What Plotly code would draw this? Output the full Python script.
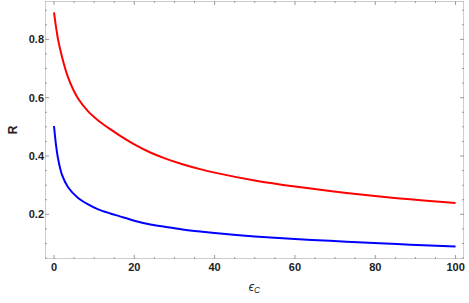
import plotly.graph_objects as go

eps_c = [0, 0.5, 1, 2, 3.5, 6, 8.5, 11, 14, 16.4, 20, 24, 27.6, 32, 36.4, 40, 50, 60, 68.7, 77, 85.4, 92, 100]
r_red = [0.893, 0.843, 0.800, 0.740, 0.670, 0.597, 0.553, 0.522, 0.492, 0.470, 0.440, 0.412, 0.392, 0.372,
         0.355, 0.343, 0.316, 0.295, 0.280, 0.267, 0.2555, 0.2475, 0.239]
r_blue = [0.503, 0.438, 0.392, 0.335, 0.293, 0.256, 0.234, 0.217, 0.203, 0.193, 0.178, 0.165, 0.157, 0.148,
          0.141, 0.136, 0.124, 0.115, 0.109, 0.103, 0.098, 0.094, 0.090]

x_ticks = [0, 20, 40, 60, 80, 100]
y_ticks = [0.2, 0.4, 0.6, 0.8]

W, H = 469, 303
ML, MR, MT, MB = 45, 5, 1, 44
XR = [-2.24, 102.1]
YR = [0.0467, 0.9317]

# frame + tick decoration derived from the axis ranges and tick lists
xpu = (W - ML - MR) / (XR[1] - XR[0])
ypu = (H - MT - MB) / (YR[1] - YR[0])
fx, fy = [], []
def seg(x0, y0, x1, y1):
    fx.extend([x0, x1, None]); fy.extend([y0, y1, None])
seg(XR[0], YR[0], XR[1], YR[0]); seg(XR[1], YR[0], XR[1], YR[1])
seg(XR[1], YR[1], XR[0], YR[1]); seg(XR[0], YR[1], XR[0], YR[0])
x_minor = [v * 5 for v in range(0, 21) if v * 5 not in x_ticks]
y_minor = [round(0.05 * k, 2) for k in range(1, 19) if round(0.05 * k, 2) not in y_ticks]
for xs, L in ((x_ticks, 4), (x_minor, 2)):
    for v in xs:
        seg(v, YR[0], v, YR[0] + L / ypu)
        seg(v, YR[1], v, YR[1] - L / ypu)
for ys, L in ((y_ticks, 4), (y_minor, 2)):
    for v in ys:
        seg(XR[0], v, XR[0] + L / xpu, v)
        seg(XR[1], v, XR[1] - L / xpu, v)

fig = go.Figure()
fig.add_trace(go.Scatter(x=fx, y=fy, mode="lines", line=dict(color="#9a9a9a", width=1),
                         hoverinfo="skip", cliponaxis=False, connectgaps=False))
fig.add_trace(go.Scatter(x=eps_c, y=r_red, mode="lines", line=dict(color="#ff0000", width=2, shape="spline", smoothing=0.8)))
fig.add_trace(go.Scatter(x=eps_c, y=r_blue, mode="lines", line=dict(color="#0000ff", width=2, shape="spline", smoothing=0.8)))

fam = "Liberation Sans, Arial, sans-serif"
tickfont = dict(family=fam, size=11, color="#222222")

fig.update_layout(
    width=W, height=H,
    margin=dict(l=ML, r=MR, t=MT, b=MB, autoexpand=False),
    paper_bgcolor="white", plot_bgcolor="white",
    showlegend=False,
    xaxis=dict(
        range=XR, tickvals=x_ticks, ticktext=["<b>%d</b>" % v for v in x_ticks],
        ticks="", ticklen=4, showline=False, showgrid=False, zeroline=False, tickfont=tickfont,
        title=dict(text="<i>ϵ</i><sub><i>C</i></sub>", font=dict(family=fam, size=12, color="#222222"), standoff=10),
    ),
    yaxis=dict(
        range=YR, tickvals=y_ticks, ticktext=["<b>%s</b>" % t for t in ["0.2", "0.4", "0.6", "0.8"]],
        ticks="", ticklen=4, showline=False, showgrid=False, zeroline=False, tickfont=tickfont,
        title=dict(text="<b>R</b>", font=dict(family=fam, size=12, color="#222222"), standoff=8),
    ),
)

fig.write_html("out.html", config={"displayModeBar": False},
               post_script="document.body.style.margin='0';document.body.style.padding='0';")
